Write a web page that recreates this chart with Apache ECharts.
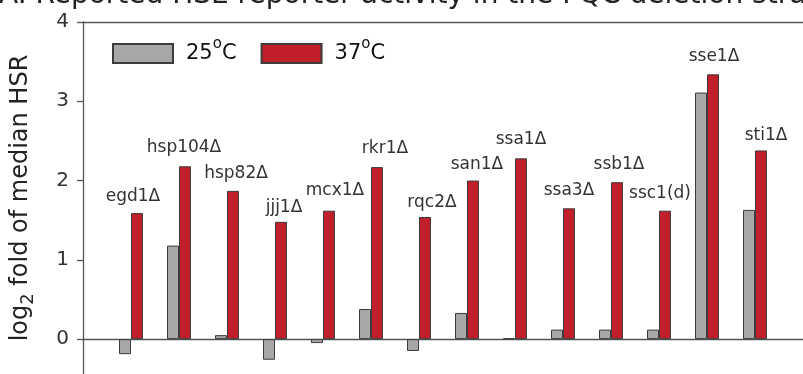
<!DOCTYPE html>
<html>
<head>
<meta charset="utf-8">
<script src="https://cdn.jsdelivr.net/npm/echarts@6/dist/echarts.min.js"></script>
<style>html,body{margin:0;padding:0;background:#fff}#c{width:803px;height:374px}</style>
</head>
<body>
<div id="c"></div>
<script>
var categories = ['egd1Δ','hsp104Δ','hsp82Δ','jjj1Δ','mcx1Δ','rkr1Δ','rqc2Δ','san1Δ','ssa1Δ','ssa3Δ','ssb1Δ','ssc1(d)','sse1Δ','sti1Δ'];
var values25 = [-0.19, 1.18, 0.05, -0.26, -0.05, 0.38, -0.15, 0.33, 0.01, 0.12, 0.12, 0.12, 3.11, 1.63];
var values37 = [1.59, 2.18, 1.87, 1.48, 1.62, 2.17, 1.54, 2.00, 2.28, 1.65, 1.98, 1.62, 3.34, 2.38];
var yTicks = [0, 1, 2, 3, 4];
var seriesNames = ['25°C', '37°C'];
var labelOffsets = [[-4,-8],[-1,-10],[3,-9],[3,-6],[6,-12],[8,-10],[7,-6],[4,-7],[0,-10],[0,-9],[2,-9],[-5,-9],[1,-9],[5,-6]];

var chart = echarts.init(document.getElementById('c'));
var axisColor = '#555';
var FONT = 'DejaVu Sans';
var data25 = values25.map(function(v, i){ return [i + 1, v]; });
var data37 = values37.map(function(v, i){
  return { value: [i + 1, v], label: { offset: labelOffsets[i] } };
});
chart.setOption({
  animation: false,
  title: {
    text: 'A. Reported HSE reporter activity in the PQC deletion strains',
    left: -6, top: -23,
    textStyle: { fontFamily: FONT, fontSize: 28, fontWeight: 'normal', color: '#222' }
  },
  legend: {
    left: 107, top: 32,
    itemWidth: 60, itemHeight: 19, itemGap: 24,
    icon: 'rect',
    data: seriesNames,
    formatter: function(n){ return n.replace('°', '{sup|o}'); },
    textStyle: {
      fontFamily: FONT, fontSize: 21, color: '#111', padding: [0, 0, 0, 8],
      rich: { sup: { fontFamily: FONT, fontSize: 15, color: '#111', padding: [0, 0, 18, 0] } }
    }
  },
  grid: { left: 83, right: -2, top: 22, bottom: 0, containLabel: false },
  xAxis: [{
    type: 'value', min: 0, max: 15,
    axisLine: { show: true, onZero: true, lineStyle: { color: axisColor, width: 1.3 } },
    axisTick: { show: false }, axisLabel: { show: false }, splitLine: { show: false }
  }, {
    type: 'value', min: 0, max: 15, position: 'top',
    axisLine: { show: true, onZero: false, lineStyle: { color: axisColor, width: 1.3 } },
    axisTick: { show: false }, axisLabel: { show: false }, splitLine: { show: false }
  }],
  yAxis: {
    type: 'value', min: -0.44, max: 4,
    name: 'log{sub|2} fold of median HSR',
    nameLocation: 'middle', nameGap: 46, nameRotate: 90,
    nameTextStyle: {
      fontFamily: FONT, fontSize: 24, color: '#222',
      rich: { sub: { fontFamily: FONT, fontSize: 18, color: '#222', padding: [14, 0, 0, 0] } }
    },
    axisLine: { show: true, lineStyle: { color: axisColor, width: 1.3 } },
    axisTick: { show: true, length: 6, customValues: yTicks, lineStyle: { color: axisColor, width: 1.3 } },
    axisLabel: {
      fontFamily: FONT, fontSize: 20, color: '#333', margin: 14,
      customValues: yTicks
    },
    splitLine: { show: false }
  },
  series: [{
    name: seriesNames[0], type: 'bar', data: data25,
    barWidth: 12, barGap: '0%',
    itemStyle: { color: '#a7a7a7', borderColor: '#3c3c3c', borderWidth: 1 }
  }, {
    name: seriesNames[1], type: 'bar', data: data37,
    barWidth: 12, barGap: '0%',
    itemStyle: { color: '#c1202b', borderColor: '#3c3c3c', borderWidth: 1 },
    label: {
      show: true, position: 'top', distance: 0,
      fontFamily: FONT, fontSize: 17, color: '#333',
      formatter: function(p){ return categories[p.dataIndex]; }
    }
  }]
});
</script>
</body>
</html>
